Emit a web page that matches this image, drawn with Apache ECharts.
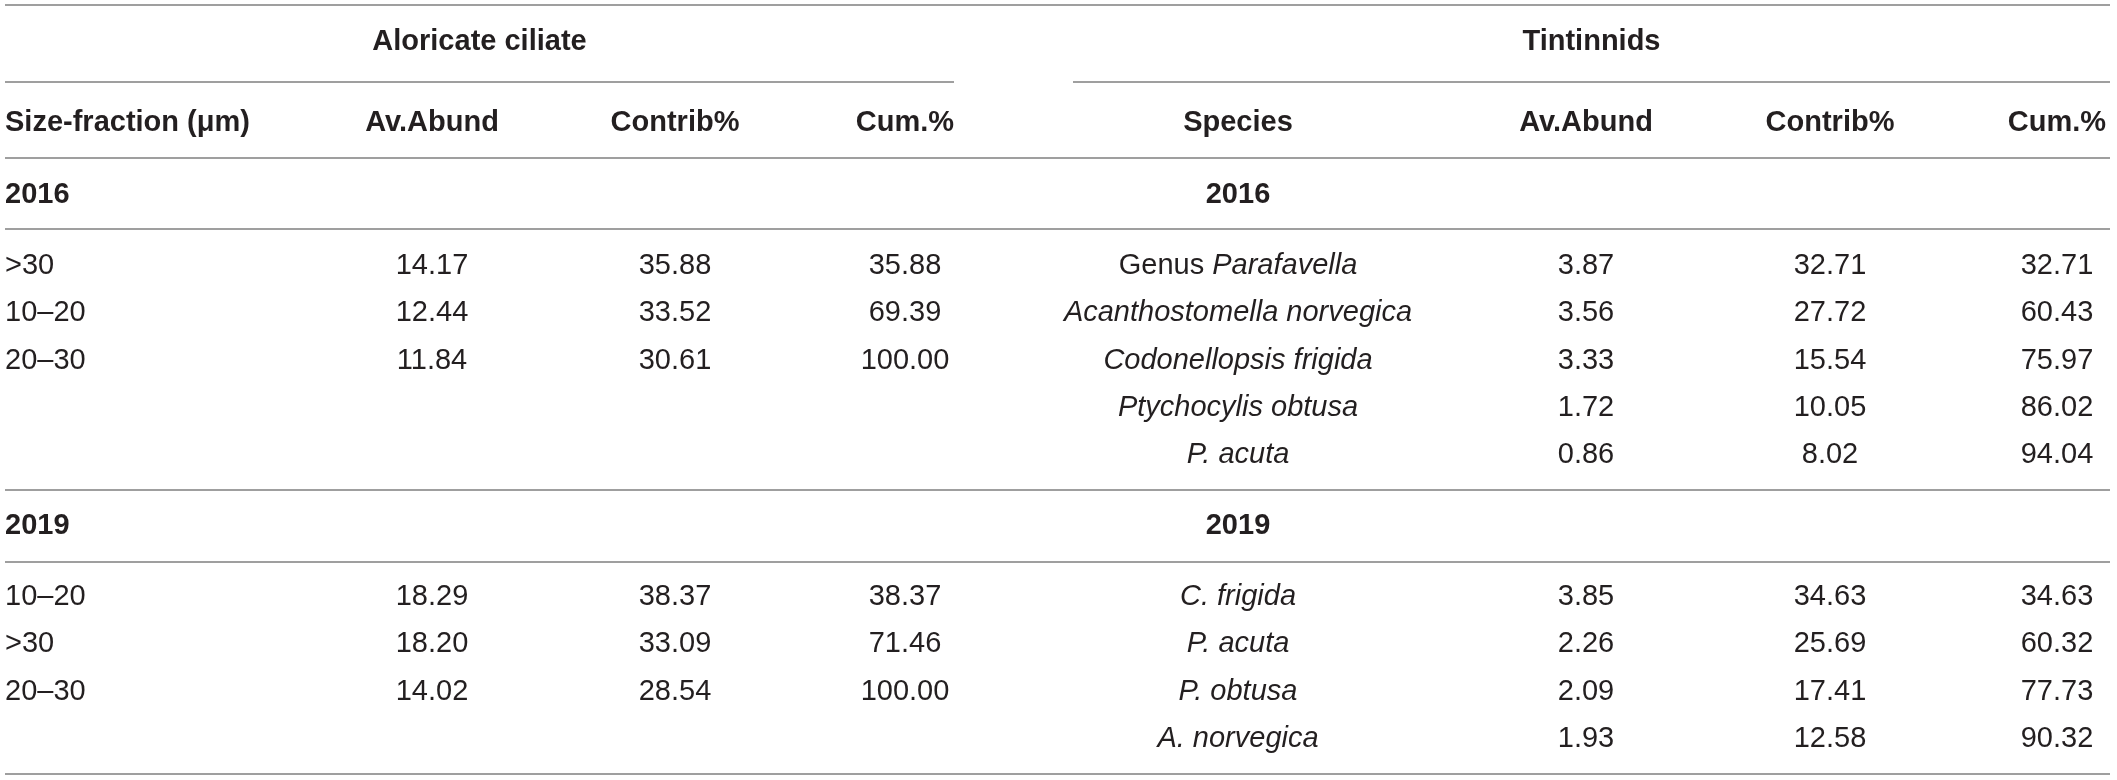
<!DOCTYPE html>
<html>
<head>
<meta charset="utf-8">
<script src="https://cdn.jsdelivr.net/npm/echarts@6/dist/echarts.min.js"></script>
<style>
  html, body { margin: 0; padding: 0; background: #fff; }
  #table { width: 2117px; height: 780px; }
</style>
</head>
<body>
<div id="table"></div>
<script>
// ---- table content ----
const groupTitles = ['Aloricate ciliate', 'Tintinnids'];
const leftHeaders = ['Size-fraction (μm)', 'Av.Abund', 'Contrib%', 'Cum.%'];
const rightHeaders = ['Species', 'Av.Abund', 'Contrib%', 'Cum.%'];
const years = ['2016', '2019'];

const size2016 = ['>30', '10–20', '20–30'];
const sizeAbund2016 = [14.17, 12.44, 11.84];
const sizeContrib2016 = [35.88, 33.52, 30.61];
const sizeCum2016 = [35.88, 69.39, 100.00];

const size2019 = ['10–20', '>30', '20–30'];
const sizeAbund2019 = [18.29, 18.20, 14.02];
const sizeContrib2019 = [38.37, 33.09, 28.54];
const sizeCum2019 = [38.37, 71.46, 100.00];

const species2016 = ['Genus Parafavella', 'Acanthostomella norvegica', 'Codonellopsis frigida', 'Ptychocylis obtusa', 'P. acuta'];
const spAbund2016 = [3.87, 3.56, 3.33, 1.72, 0.86];
const spContrib2016 = [32.71, 27.72, 15.54, 10.05, 8.02];
const spCum2016 = [32.71, 60.43, 75.97, 86.02, 94.04];

const species2019 = ['C. frigida', 'P. acuta', 'P. obtusa', 'A. norvegica'];
const spAbund2019 = [3.85, 2.26, 2.09, 1.93];
const spContrib2019 = [34.63, 25.69, 17.41, 12.58];
const spCum2019 = [34.63, 60.32, 77.73, 90.32];

// ---- layout (axis units = px) ----
const colLeft = [5, 432, 675, 905];
const colRight = [1238, 1586, 1830, 2057];
const tableL = 5, tableR = 2110, leftEnd = 954, rightStart = 1073;
const yTitle = 42, yHead = 123, yYear = [195, 526], yFirstRow = [266, 597], rowStep = 47.3;
const rules = [
  [tableL, tableR, 5], [tableL, leftEnd, 82], [rightStart, tableR, 82],
  [tableL, tableR, 158], [tableL, tableR, 229], [tableL, tableR, 490],
  [tableL, tableR, 562], [tableL, tableR, 774]
];

const FONT = '"Liberation Sans", Arial, Helvetica, sans-serif';
const FS = 29;
const cells = [];
function cell(x, y, text, opt) {
  cells.push(Object.assign({ value: [x, y], text: text, bold: false, align: 'center' }, opt || {}));
}

cell((tableL + leftEnd) / 2, yTitle, groupTitles[0], { bold: true });
cell((rightStart + tableR) / 2, yTitle, groupTitles[1], { bold: true });
leftHeaders.forEach((h, i) => cell(colLeft[i], yHead, h, { bold: true, align: i === 0 ? 'left' : 'center' }));
rightHeaders.forEach((h, i) => cell(colRight[i], yHead, h, { bold: true }));

[
  [size2016, sizeAbund2016, sizeContrib2016, sizeCum2016, species2016, spAbund2016, spContrib2016, spCum2016],
  [size2019, sizeAbund2019, sizeContrib2019, sizeCum2019, species2019, spAbund2019, spContrib2019, spCum2019]
].forEach((blk, b) => {
  cell(colLeft[0], yYear[b], years[b], { bold: true, align: 'left' });
  cell(colRight[0], yYear[b], years[b], { bold: true });
  blk[0].forEach((s, r) => {
    const y = yFirstRow[b] + r * rowStep;
    cell(colLeft[0], y, s, { align: 'left' });
    cell(colLeft[1], y, blk[1][r].toFixed(2));
    cell(colLeft[2], y, blk[2][r].toFixed(2));
    cell(colLeft[3], y, blk[3][r].toFixed(2));
  });
  blk[4].forEach((s, r) => {
    const y = yFirstRow[b] + r * rowStep;
    // genus prefix stays upright, species names in italics
    const txt = s.indexOf('Genus ') === 0 ? '{n|Genus }{i|' + s.slice(6) + '}' : '{i|' + s + '}';
    cell(colRight[0], y, txt);
    cell(colRight[1], y, blk[5][r].toFixed(2));
    cell(colRight[2], y, blk[6][r].toFixed(2));
    cell(colRight[3], y, blk[7][r].toFixed(2));
  });
});

const ink = '#231f20';
const rich = {
  n: { fontFamily: FONT, fontSize: FS, fill: ink },
  i: { fontFamily: FONT, fontSize: FS, fontStyle: 'italic', fill: ink }
};

const chart = echarts.init(document.getElementById('table'));
chart.setOption({
  animation: false,
  grid: { left: 0, right: 0, top: 0, bottom: 0 },
  xAxis: { type: 'value', min: 0, max: 2117, show: false },
  yAxis: { type: 'value', min: 0, max: 780, inverse: true, show: false },
  series: [
    {
      type: 'custom',
      data: rules,
      renderItem: function (params, api) {
        const a = api.coord([api.value(0), api.value(2)]);
        const b = api.coord([api.value(1), api.value(2)]);
        return {
          type: 'line',
          shape: { x1: a[0], y1: a[1], x2: b[0], y2: b[1] },
          style: { stroke: '#7f7f7f', lineWidth: 1.5 }
        };
      }
    },
    {
      type: 'custom',
      data: cells.map(c => c.value),
      renderItem: function (params, api) {
        const c = cells[params.dataIndex];
        const p = api.coord([api.value(0), api.value(1)]);
        return {
          type: 'text',
          x: p[0],
          y: p[1],
          style: {
            text: c.text,
            fontFamily: FONT,
            fontSize: FS,
            fontWeight: c.bold ? 'bold' : 'normal',
            fill: ink,
            align: c.align,
            verticalAlign: 'middle',
            rich: rich
          }
        };
      }
    }
  ]
});
</script>
</body>
</html>
